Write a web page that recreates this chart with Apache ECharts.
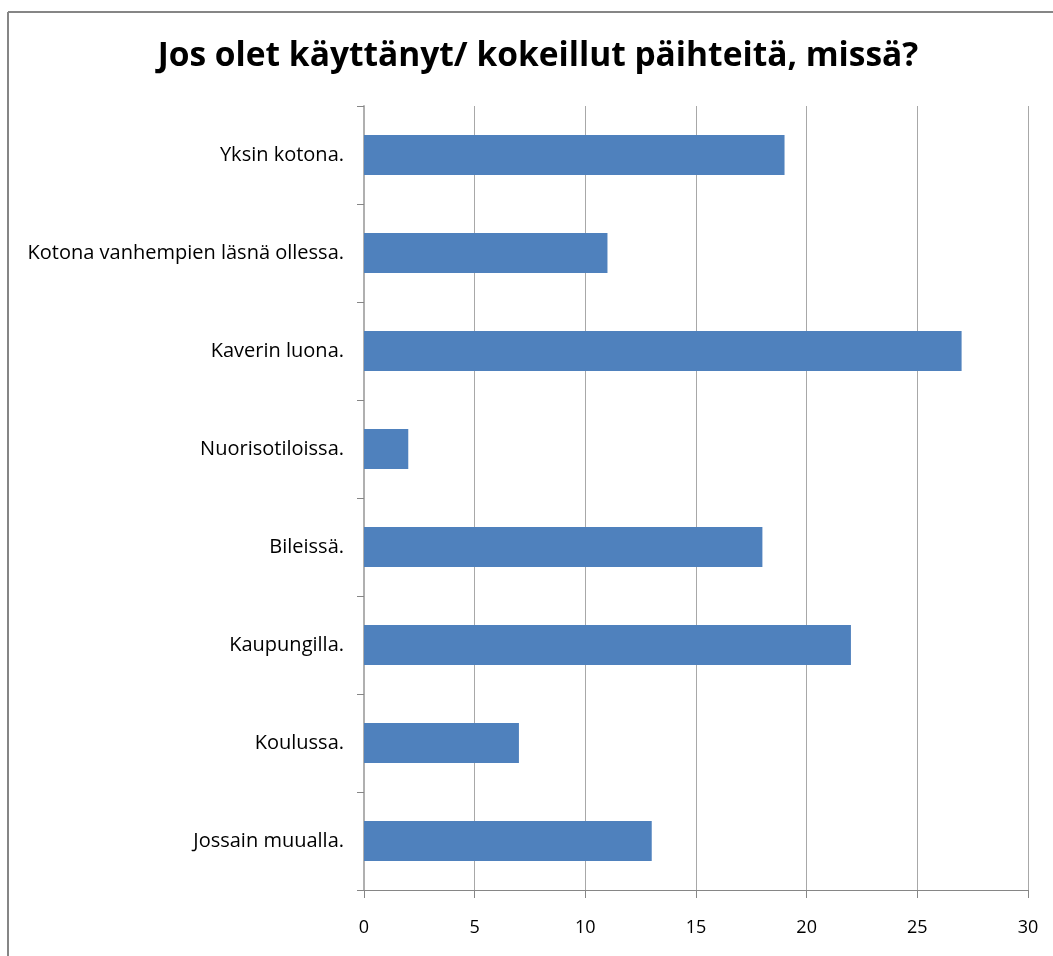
<!DOCTYPE html>
<html><head><meta charset="utf-8">
<script src="https://cdn.jsdelivr.net/npm/echarts@6/dist/echarts.min.js"></script>
<style>html,body{margin:0;padding:0;background:#fff}#c{width:1053px;height:956px}</style>
</head><body><div id="c"></div>
<script>
const categories = ["Yksin kotona.","Kotona vanhempien läsnä ollessa.","Kaverin luona.","Nuorisotiloissa.","Bileissä.","Kaupungilla.","Koulussa.","Jossain muualla."];
const values = [19, 11, 27, 2, 18, 22, 7, 13];
const xTicks = [0, 5, 10, 15, 20, 25, 30];

const chart = echarts.init(document.getElementById('c'));
chart.setOption({
  animation: false,
  backgroundColor: '#fff',
  graphic: [
    {type:'line', shape:{x1:8,y1:12,x2:1053,y2:12}, style:{stroke:'#868686',lineWidth:2}},
    {type:'line', shape:{x1:8,y1:12,x2:8,y2:956}, style:{stroke:'#868686',lineWidth:2}}
  ],
  title: {
    text: 'Jos olet käyttänyt/ kokeillut päihteitä, missä?',
    left: 533, top: 34, textAlign: 'center',
    textStyle: {fontFamily: 'Open Sans', fontWeight: 'bold', fontSize: 33.5, color: '#000'}
  },
  grid: {left: 364, right: 25, top: 106, bottom: 66, containLabel: false},
  xAxis: {
    type: 'value', min: xTicks[0], max: xTicks[xTicks.length-1], interval: 5,
    axisLine: {show: true, lineStyle: {color: '#868686'}},
    axisTick: {show: true, length: 8, lineStyle: {color: '#868686'}},
    axisLabel: {margin: 29, fontFamily: 'Open Sans', fontSize: 18, color: '#000'},
    splitLine: {show: true, lineStyle: {color: '#a8a8a8'}}
  },
  yAxis: {
    type: 'category', data: categories, inverse: true,
    axisLine: {show: true, lineStyle: {color: '#b0b0b0', width: 2}},
    axisTick: {show: true, length: 7, inside: false, lineStyle: {color: '#868686'}},
    axisLabel: {margin: 20, fontFamily: 'Open Sans', fontSize: 20, color: '#000'}
  },
  series: [{
    type: 'bar', data: values, barCategoryGap: '59%',
    itemStyle: {color: '#4f81bd'}
  }]
});
</script></body></html>
